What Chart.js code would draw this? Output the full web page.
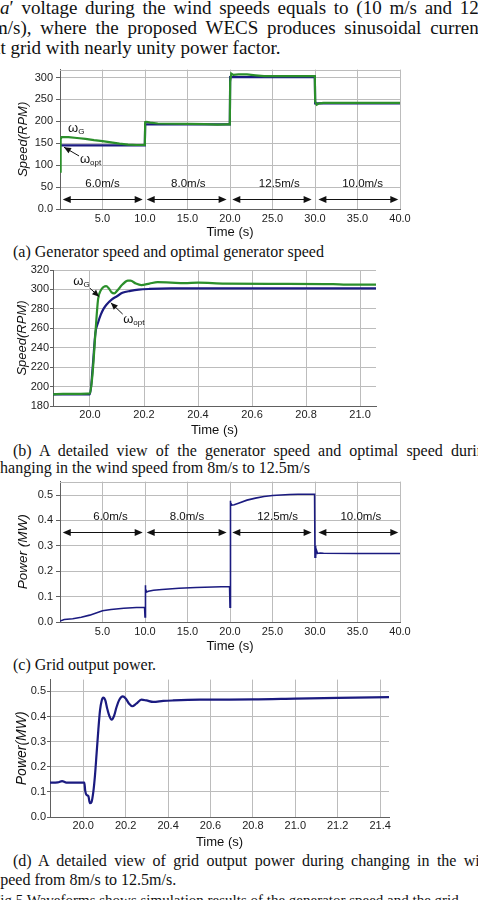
<!DOCTYPE html>
<html>
<head>
<meta charset="utf-8">
<script src="https://cdn.jsdelivr.net/npm/chart.js@4.4.0/dist/chart.umd.min.js"></script>
<style>
  html, body { margin:0; padding:0; background:#fff; }
  body { width:478px; height:900px; position:relative; overflow:hidden; }
  .t { position:absolute; white-space:nowrap; font-family:"Liberation Serif","Times New Roman",serif; color:#111; }
  .p { font-size:19px; line-height:20px; }
  .c { font-size:16px; line-height:18px; }
  canvas { position:absolute; left:0; }
</style>
</head>
<body>
<div class="t p" style="top:-2px;left:0px;word-spacing:3px"><i>a</i>′ voltage during the wind speeds equals to (10 m/s and 12.5</div>
<div class="t p" style="top:18px;left:-7px;word-spacing:4px">m/s), where the proposed WECS produces sinusoidal current</div>
<div class="t p" style="top:38px;left:-8px;">at grid with nearly unity power factor.</div>

<canvas id="ca" width="478" height="180" style="top:60px"></canvas>
<div class="t c" style="top:243px;left:13px;">(a) Generator speed and optimal generator speed</div>

<canvas id="cb" width="478" height="176" style="top:262px"></canvas>
<div class="t c" style="top:442px;left:13px;word-spacing:4.15px">(b) A detailed view of the generator speed and optimal speed during</div>
<div class="t c" style="top:459px;left:-7px;">changing in the wind speed from 8m/s to 12.5m/s</div>

<canvas id="cc" width="478" height="182" style="top:472px"></canvas>
<div class="t c" style="top:656px;left:13px;">(c) Grid output power.</div>

<canvas id="cd" width="478" height="178" style="top:672px"></canvas>
<div class="t c" style="top:852px;left:13px;word-spacing:3.35px">(d) A detailed view of grid output power during changing in the wind</div>
<div class="t c" style="top:871px;left:-6px;">speed from 8m/s to 12.5m/s.</div>
<div class="t" style="top:891px;left:-8px;font-size:15px;line-height:18px;">Fig 5 Waveforms shows simulation results of the generator speed and the grid</div>

<script>
// ---------- data ----------
// (a) generator speed (omega_G) and optimal speed (omega_opt), full run
const aTimeG  = [0, 0.05, 0.1, 0.2, 0.5, 1, 2, 3, 4, 5, 6, 7, 8, 9, 9.98, 10.02, 10.2, 10.6, 11.5, 13, 15, 17, 18.5, 19.5, 19.98, 20.02, 20.15, 20.4, 21, 22, 23, 24, 25, 27, 29.98, 30.02, 30.2, 30.5, 31, 35, 40];
const aSpeedG = [85, 140, 160, 164, 164, 164, 162, 160, 157, 155, 152, 149, 147, 146, 146, 198, 199, 197, 195, 194.5, 194, 193.5, 192.5, 193, 193, 290, 309, 306, 307, 307, 305, 303, 303, 303, 303, 245, 238, 241, 242, 242, 242];
const aTimeOpt  = [0, 9.98, 10.02, 19.98, 20.02, 29.98, 30.02, 40];
const aSpeedOpt = [145, 145, 193, 193, 301, 301, 241, 241];

// (b) detailed view of speeds during 8 -> 12.5 m/s
const bTimeG  = [19.863, 19.9, 19.95, 20.0, 20.01, 20.02, 20.03, 20.04, 20.05, 20.06, 20.07, 20.08, 20.09, 20.1, 20.12, 20.14, 20.15, 20.17, 20.19, 20.22, 20.25, 20.3, 20.35, 20.4, 20.5, 20.7, 20.9, 20.95, 21.06];
const bSpeedG = [192, 192.5, 192.5, 193, 215, 255, 290, 299, 302.5, 303.5, 301, 297, 296, 298.5, 305, 309, 309, 306, 304.5, 306, 307.5, 307, 306.5, 307, 306, 305.8, 305.5, 305, 305];
const bTimeOpt  = [19.863, 20.0, 20.01, 20.02, 20.03, 20.04, 20.05, 20.06, 20.08, 20.1, 20.12, 20.15, 20.18, 20.22, 20.3, 21.06];
const bSpeedOpt = [192, 192, 220, 255, 266, 274, 280, 284, 289.5, 293, 296.5, 298.5, 299.8, 300.5, 301, 301];

// (c) grid output power, full run
const cTime  = [0, 0.5, 1.5, 2.5, 3.5, 5, 6, 7.5, 9, 9.95, 10.0, 10.02, 10.05, 10.1, 10.2, 10.4, 11, 12, 14, 16, 18, 19.95, 20.0, 20.02, 20.05, 20.1, 20.2, 20.5, 21, 22, 23, 24, 25, 26, 27, 28, 29.95, 30.0, 30.05, 30.1, 30.15, 30.3, 30.6, 31, 35, 40];
const cPower = [0.004, 0.01, 0.013, 0.019, 0.027, 0.044, 0.049, 0.054, 0.057, 0.058, 0.02, 0.145, 0.105, 0.13, 0.118, 0.121, 0.125, 0.128, 0.133, 0.136, 0.138, 0.14, 0.058, 0.478, 0.44, 0.47, 0.46, 0.462, 0.468, 0.48, 0.488, 0.494, 0.498, 0.5, 0.502, 0.503, 0.503, 0.255, 0.3, 0.258, 0.285, 0.27, 0.272, 0.271, 0.27, 0.27];

// (d) detailed view of grid power during 8 -> 12.5 m/s
const dTime  = [19.843, 19.88, 19.9, 19.92, 20.005, 20.009, 20.015, 20.024, 20.031, 20.039, 20.047, 20.055, 20.063, 20.071, 20.079, 20.087, 20.094, 20.104, 20.113, 20.123, 20.134, 20.145, 20.157, 20.17, 20.186, 20.2, 20.216, 20.231, 20.25, 20.274, 20.298, 20.33, 20.377, 20.424, 20.55, 20.8, 21.0, 21.2, 21.442];
const dPower = [0.137, 0.138, 0.143, 0.137, 0.137, 0.105, 0.088, 0.083, 0.055, 0.06, 0.098, 0.164, 0.255, 0.347, 0.425, 0.464, 0.475, 0.464, 0.431, 0.402, 0.388, 0.402, 0.438, 0.467, 0.48, 0.472, 0.451, 0.441, 0.451, 0.467, 0.464, 0.458, 0.462, 0.464, 0.467, 0.468, 0.471, 0.474, 0.477];

// tick values
const aXTicks = [0, 5, 10, 15, 20, 25, 30, 35, 40];
const aYTicks = [0, 50, 100, 150, 200, 250, 300];
const bXTicks = [20.0, 20.2, 20.4, 20.6, 20.8, 21.0];
const bYTicks = [180, 200, 220, 240, 260, 280, 300, 320];
const cXTicks = [0, 5, 10, 15, 20, 25, 30, 35, 40];
const cYTicks = [0, 0.1, 0.2, 0.3, 0.4, 0.5];
const dXTicks = [20.0, 20.2, 20.4, 20.6, 20.8, 21.0, 21.2, 21.4];
const dYTicks = [0, 0.1, 0.2, 0.3, 0.4, 0.5];

// wind-speed segments
const windLabels = ['6.0m/s', '8.0m/s', '12.5m/s', '10.0m/s'];
const windFrom   = [0.32, 10.2, 20.27, 30.4];
const windTo     = [9.73, 19.6, 29.6, 39.8];

// ---------- drawing ----------
const GREEN = '#2b8f2b';
const BLUE  = '#1b1b80';
const GRID  = '#bcbcbc';
const AXIS  = '#606060';
const TXT   = '#222';
const SANS  = '"Liberation Sans", Arial, sans-serif';

function pts(xs, ys) { return xs.map((x, i) => ({ x: x, y: ys[i] })); }

function arrowHead(ctx, x1, y1, x2, y2, len, half) {
  const a = Math.atan2(y2 - y1, x2 - x1);
  ctx.beginPath();
  ctx.moveTo(x2, y2);
  ctx.lineTo(x2 - len * Math.cos(a) + half * Math.sin(a), y2 - len * Math.sin(a) - half * Math.cos(a));
  ctx.lineTo(x2 - len * Math.cos(a) - half * Math.sin(a), y2 - len * Math.sin(a) + half * Math.cos(a));
  ctx.closePath();
  ctx.fill();
}

const annot = {
  id: 'annot',
  afterDatasetsDraw(chart, args, o) {
    const { ctx, chartArea: ca, scales: { x, y } } = chart;
    ctx.save();
    if (o.frame) {
      ctx.strokeStyle = GRID; ctx.lineWidth = 1;
      ctx.beginPath();
      ctx.moveTo(ca.left, Math.round(ca.top) + 0.5);
      ctx.lineTo(ca.right, Math.round(ca.top) + 0.5);
      ctx.stroke();
    }
    if (o.wind) {
      const w = o.wind;
      ctx.fillStyle = '#111'; ctx.strokeStyle = '#111'; ctx.lineWidth = 1;
      ctx.font = '11.5px ' + SANS;
      ctx.textAlign = 'center'; ctx.textBaseline = 'middle';
      const ya = Math.round(y.getPixelForValue(w.arrowY)) + 0.5;
      const yl = y.getPixelForValue(w.labelY);
      for (let i = 0; i < windLabels.length; i++) {
        const x1 = x.getPixelForValue(windFrom[i]);
        const x2 = x.getPixelForValue(windTo[i]);
        ctx.beginPath(); ctx.moveTo(x1 + 4, ya); ctx.lineTo(x2 - 4, ya); ctx.stroke();
        arrowHead(ctx, x1 + 8, ya, x1, ya, 8, 3.4);
        arrowHead(ctx, x2 - 8, ya, x2, ya, 8, 3.4);
        ctx.fillText(windLabels[i], x.getPixelForValue(w.labelX[i]), yl);
      }
    }
    if (o.callouts) {
      ctx.fillStyle = '#111'; ctx.strokeStyle = '#111'; ctx.lineWidth = 1;
      ctx.textAlign = 'left'; ctx.textBaseline = 'alphabetic';
      o.callouts.forEach(c => {
        const tx = x.getPixelForValue(c.tx), ty = y.getPixelForValue(c.ty);
        ctx.font = c.size + 'px ' + SANS;
        ctx.fillText('ω', tx, ty);
        const wω = ctx.measureText('ω').width;
        ctx.font = c.sub + 'px ' + SANS;
        ctx.fillText(c.label, tx + wω, ty + 2);
        if (c.arrow) {
          const [x1v, y1v, x2v, y2v] = c.arrow;
          const ax1 = x.getPixelForValue(x1v), ay1 = y.getPixelForValue(y1v);
          const ax2 = x.getPixelForValue(x2v), ay2 = y.getPixelForValue(y2v);
          ctx.beginPath(); ctx.moveTo(ax1, ay1); ctx.lineTo(ax2, ay2); ctx.stroke();
          arrowHead(ctx, ax1, ay1, ax2, ay2, 7, 3);
        }
      });
    }
    ctx.restore();
  }
};

function makeChart(id, o) {
  const datasets = o.series.map(s => ({
    data: pts(s.x, s.y),
    borderColor: s.color,
    borderWidth: s.width,
    pointRadius: 0,
    tension: 0,
    cubicInterpolationMode: s.smooth ? 'monotone' : 'default',
    fill: false
  }));
  return new Chart(document.getElementById(id), {
    type: 'line',
    data: { datasets },
    plugins: [annot],
    options: {
      responsive: false,
      animation: false,
      devicePixelRatio: 1,
      layout: { padding: { left: 0, right: o.padRight, top: o.padTop, bottom: 0 } },
      plugins: {
        legend: { display: false }, tooltip: { enabled: false },
        annot: { frame: o.frame, wind: o.wind, callouts: o.callouts }
      },
      scales: {
        x: {
          type: 'linear', min: o.xMin, max: o.xMax,
          afterBuildTicks: s => { s.ticks = o.xTicks.map(v => ({ value: v })); },
          afterFit: s => { s.height = o.xHeight; },
          ticks: { autoSkip: false, maxRotation: 0, padding: o.xPad, color: TXT,
                   font: { family: SANS, size: 11 }, callback: o.xFmt },
          grid: { color: GRID, drawTicks: false },
          border: { color: AXIS, width: 1 },
          title: { display: true, text: 'Time (s)', color: '#111',
                   font: { family: SANS, size: 13 }, padding: { top: 0, bottom: 0 } }
        },
        y: {
          type: 'linear', min: o.yMin, max: o.yMax,
          afterBuildTicks: s => { s.ticks = o.yTicks.map(v => ({ value: v })); },
          afterFit: s => { s.width = o.yWidth; },
          ticks: { autoSkip: false, padding: o.yPad, color: TXT,
                   font: { family: SANS, size: 11 }, callback: o.yFmt },
          grid: { color: GRID, tickColor: AXIS, tickLength: o.yTick },
          border: { color: AXIS, width: 1 },
          title: { display: true, text: o.yTitle, color: '#111',
                   font: { family: SANS, size: o.yTitleSize, style: 'italic' },
                   padding: { top: o.yTitlePad, bottom: 0 } }
        }
      }
    }
  });
}

const fmtT0 = v => v === 0 ? '' : v.toFixed(1);
const fmt1 = v => v.toFixed(1);

makeChart('ca', {
  series: [
    { x: aTimeG, y: aSpeedG, color: GREEN, width: 2.2 },
    { x: aTimeOpt, y: aSpeedOpt, color: BLUE, width: 2.2 }
  ],
  xMin: 0, xMax: 40, yMin: 0, yMax: 318,
  xTicks: aXTicks, yTicks: aYTicks, xFmt: fmtT0,
  yFmt: v => v === 0 ? '0.0' : String(v),
  padRight: 78, padTop: 7, xHeight: 31, yWidth: 60, xPad: 3, yPad: 3, yTick: 4,
  yTitle: 'Speed(RPM)', yTitleSize: 13, yTitlePad: 16, frame: true,
  wind: { arrowY: 22.4, labelY: 57.6, labelX: [5.0, 15.1, 25.8, 35.6] },
  callouts: [
    { label: 'G', size: 13, sub: 8, tx: 0.94, ty: 174.6 },
    { label: 'opt', size: 13, sub: 8, tx: 2.35, ty: 106, arrow: [2.24, 121, 0.47, 141] }
  ]
});

makeChart('cb', {
  series: [
    { x: bTimeG, y: bSpeedG, color: GREEN, width: 2.2, smooth: true },
    { x: bTimeOpt, y: bSpeedOpt, color: BLUE, width: 2.2, smooth: true }
  ],
  xMin: 19.863, xMax: 21.059, yMin: 180, yMax: 320,
  xTicks: bXTicks, yTicks: bYTicks, xFmt: fmt1, yFmt: v => String(v),
  padRight: 102, padTop: 8, xHeight: 32, yWidth: 53, xPad: 2, yPad: 1, yTick: 3,
  yTitle: 'Speed(RPM)', yTitleSize: 13, yTitlePad: 15, frame: false,
  callouts: [
    { label: 'G', size: 13, sub: 8, tx: 19.938, ty: 304.6, arrow: [20.0, 301.2, 20.034, 292.5] },
    { label: 'opt', size: 13, sub: 8, tx: 20.123, ty: 265.3, arrow: [20.121, 274.6, 20.077, 286.3] }
  ]
});

makeChart('cc', {
  series: [ { x: cTime, y: cPower, color: BLUE, width: 1.6 } ],
  xMin: 0, xMax: 40, yMin: 0, yMax: 0.553,
  xTicks: cXTicks, yTicks: cYTicks, xFmt: fmtT0, yFmt: fmt1,
  padRight: 78, padTop: 7, xHeight: 32, yWidth: 60, xPad: 3, yPad: 3, yTick: 4,
  yTitle: 'Power (MW)', yTitleSize: 13.5, yTitlePad: 15, frame: true,
  wind: { arrowY: 0.356, labelY: 0.416, labelX: [5.94, 14.94, 25.6, 35.4] }
});

makeChart('cd', {
  series: [ { x: dTime, y: dPower, color: BLUE, width: 2.2, smooth: true } ],
  xMin: 19.843, xMax: 21.442, yMin: 0, yMax: 0.547,
  xTicks: dXTicks, yTicks: dYTicks, xFmt: fmt1, yFmt: fmt1,
  padRight: 89, padTop: 5, xHeight: 33, yWidth: 50, xPad: 2, yPad: 1, yTick: 3,
  yTitle: 'Power(MW)', yTitleSize: 14, yTitlePad: 14, frame: false
});
</script>
</body>
</html>
